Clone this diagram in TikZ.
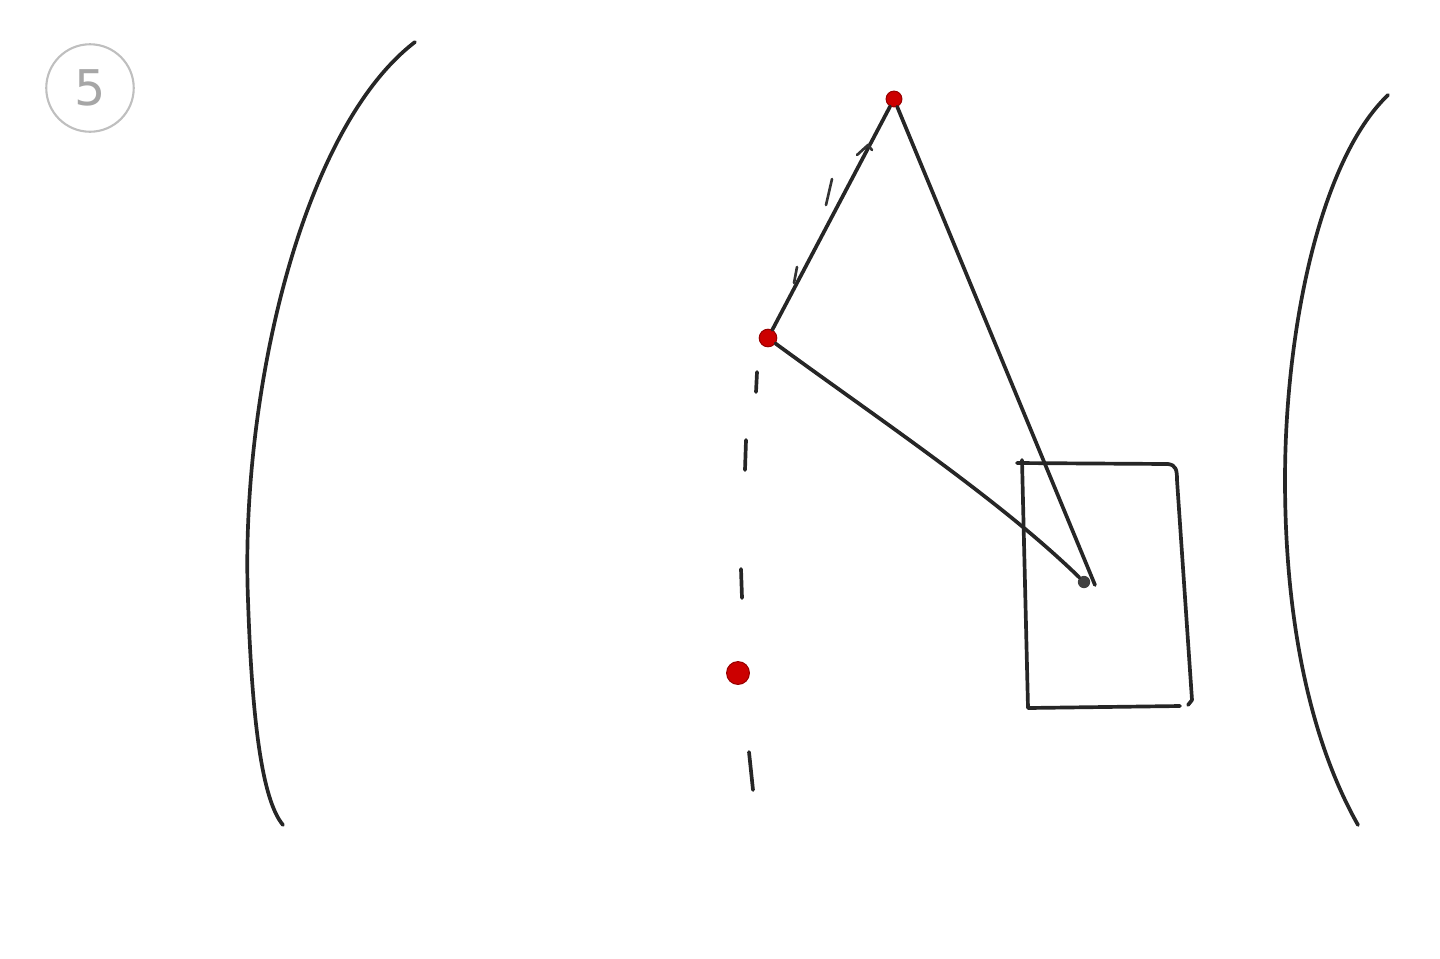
\documentclass[tikz,border=0pt]{standalone}
\usepackage{fontspec}
\setmainfont{DejaVu Sans}
\begin{document}
\begin{tikzpicture}[x=0.02cm,y=-0.02cm,
  pen/.style={draw=black!85,line width=2.1pt,line cap=round,line join=round},
  thinpen/.style={draw=black!80,line width=1.5pt,line cap=round,line join=round},
  reddot/.style={circle,fill=red!80!black,draw=red!60!black,line width=0.6pt,inner sep=0pt,minimum size=#1},
  blackdot/.style={circle,fill=black!75,inner sep=0pt,minimum size=7pt},
  faint/.style={draw=black!25,line width=1.2pt}]
\useasboundingbox (0,0) rectangle (1440,958);
% circled 5
\node[circle,faint,minimum size=1.75cm,text=black!35,font=\fontsize{28}{28}\selectfont] (num) at (90,88) {5};
% left and right arcs
\draw[pen] (415,42) .. controls (300,130) and (240,400) .. (248,600) .. controls (252,720) and (262,800) .. (283,825);
\draw[pen] (1388,95) .. controls (1320,160) and (1285,330) .. (1285,480) .. controls (1285,620) and (1310,740) .. (1358,825);
% points
\node[reddot=9pt] (top) at (894,99) {};
\node[reddot=10pt] (mid) at (768,338) {};
\node[reddot=13pt] (low) at (738,673) {};
\node[blackdot] (tip) at (1084,582) {};
% box
\draw[pen] (1017,463) -- (1168,464) .. controls (1176,465) and (1177,470) .. (1177,480) -- (1192,700) -- (1188,705);
\draw[pen] (1022,460) -- (1028,708) -- (1180,706);
% triangle sides
\draw[pen] (top) -- (mid);
\draw[pen] (top) -- (1095,585);
\draw[pen] (mid) .. controls (880,420) and (1000,500) .. (tip);
% small hand strokes along the upper side
\draw[thinpen] (857,155) -- (868,145) -- (872,150);
\draw[thinpen] (832,179) -- (826,205);
\draw[thinpen] (797,267) -- (794,283);
% dashed vertical line
\draw[pen] (757,372) -- (756,392);
\draw[pen] (746,440) -- (745,470);
\draw[pen] (741,569) -- (742,598);
\draw[pen] (749,752) -- (753,790);
\end{tikzpicture}
\end{document}
